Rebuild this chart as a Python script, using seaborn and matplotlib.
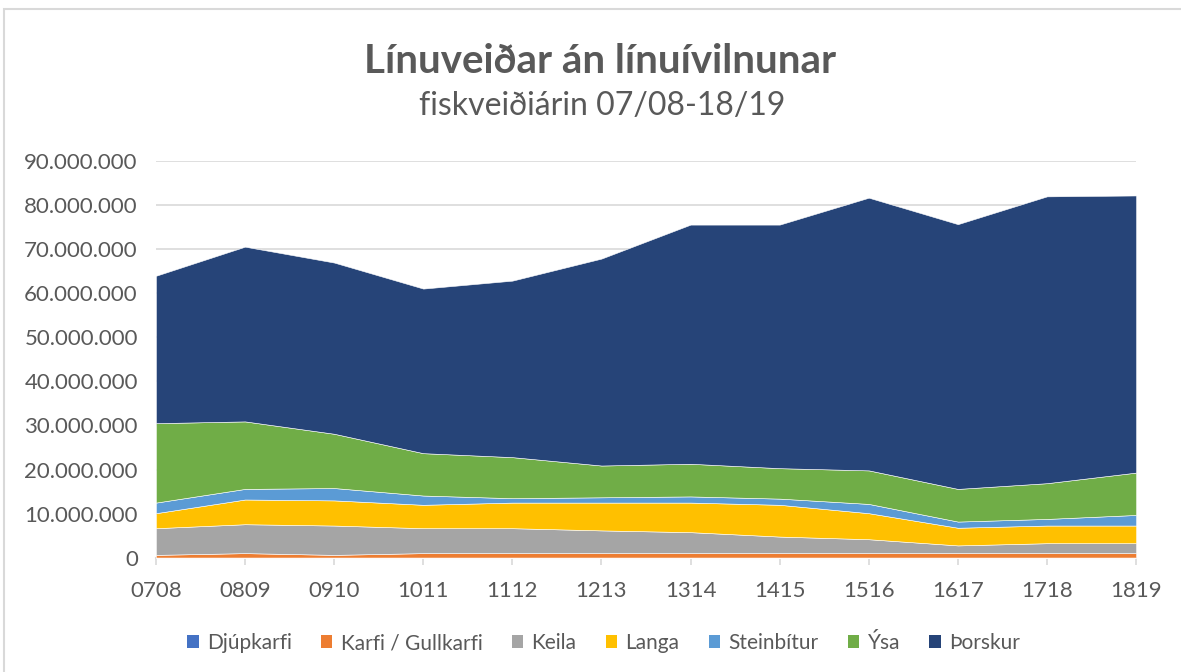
import numpy as np
import pandas as pd
import matplotlib
matplotlib.use("Agg")
import matplotlib.pyplot as plt
import matplotlib.ticker as mticker
from matplotlib.patches import Patch, Rectangle
import seaborn as sns

# Gögn lesin af myndinni (kg)
years = ["0708", "0809", "0910", "1011", "1112", "1213",
         "1314", "1415", "1516", "1617", "1718", "1819"]
djupkarfi = [50_000] * 12
karfi = [600_000, 1_000_000, 600_000, 1_000_000, 1_000_000, 1_000_000,
         1_000_000, 1_000_000, 1_000_000, 1_000_000, 1_000_000, 1_000_000]
keila = [6_050_000, 6_550_000, 6_650_000, 5_650_000, 5_650_000, 5_150_000,
         4_750_000, 3_750_000, 3_150_000, 1_750_000, 2_250_000, 2_250_000]
langa = [3_400_000, 5_600_000, 5_700_000, 5_300_000, 5_800_000, 6_300_000,
         6_700_000, 7_200_000, 5_900_000, 4_000_000, 4_000_000, 4_000_000]
steinbitur = [2_400_000, 2_400_000, 2_800_000, 2_100_000, 1_000_000, 1_200_000,
              1_400_000, 1_400_000, 2_100_000, 1_400_000, 1_500_000, 2_400_000]
ysa = [18_000_000, 15_300_000, 12_300_000, 9_600_000, 9_300_000, 7_200_000,
       7_400_000, 6_900_000, 7_600_000, 7_400_000, 8_100_000, 9_600_000]
thorskur = [33_400_000, 39_600_000, 38_800_000, 37_300_000, 40_000_000, 46_900_000,
            54_200_000, 55_200_000, 61_800_000, 60_000_000, 65_000_000, 62_800_000]

labels = ["Djúpkarfi", "Karfi / Gullkarfi", "Keila", "Langa",
          "Steinbítur", "Ýsa", "Þorskur"]
colors = ["#4472C4", "#ED7D31", "#A5A5A5", "#FFC000",
          "#5B9BD5", "#70AD47", "#264478"]

df = pd.DataFrame({
    "ar": years,
    "Djúpkarfi": djupkarfi,
    "Karfi / Gullkarfi": karfi,
    "Keila": keila,
    "Langa": langa,
    "Steinbítur": steinbitur,
    "Ýsa": ysa,
    "Þorskur": thorskur,
})

sns.set_theme(style="white")
plt.rcParams["font.family"] = ["Lato", "DejaVu Sans"]
txt = "#595959"
grid = "#D9D9D9"

fig = plt.figure(figsize=(11.81, 6.72), dpi=100)
ax = fig.add_axes([0.132, 0.170, 0.830, 0.591])

x = np.arange(len(df))
ax.stackplot(x, [df[c] for c in labels], colors=colors, labels=labels,
             linewidth=0.4, edgecolor="white", zorder=2)

ax.set_xlim(0, len(df) - 1)
ax.set_ylim(0, 90_000_000)
ax.yaxis.set_major_locator(mticker.MultipleLocator(10_000_000))
ax.yaxis.set_major_formatter(
    mticker.FuncFormatter(lambda v, p: f"{int(v):,}".replace(",", ".")))
ax.set_xticks(x)
ax.set_xticklabels(df["ar"])
ax.grid(axis="y", color=grid, linewidth=1.2, zorder=0)
ax.set_axisbelow(True)

for s in ["top", "right", "left"]:
    ax.spines[s].set_visible(False)
ax.spines["bottom"].set_color(grid)
ax.spines["bottom"].set_linewidth(1.5)
ax.spines["bottom"].set_zorder(1.5)

ax.tick_params(axis="x", colors=grid, length=5, width=1.2, direction="out",
               labelcolor=txt, labelsize=16, pad=12, bottom=True)
ax.tick_params(axis="y", length=0, labelcolor=txt, labelsize=16, pad=13)

fig.text(0.508, 0.908, "Línuveiðar án línuívilnunar", ha="center", va="center",
         fontsize=29, fontweight="bold", color=txt)
fig.text(0.510, 0.843, "fiskveiðiárin 07/08-18/19", ha="center", va="center",
         fontsize=23, color=txt)

handles = [Patch(facecolor=c, edgecolor="none", label=l) for c, l in zip(colors, labels)]
leg = fig.legend(handles=handles, loc="center", bbox_to_anchor=(0.511, 0.043),
                 ncol=7, frameon=False, fontsize=15, handlelength=0.55,
                 handleheight=0.55, handletextpad=0.4, columnspacing=1.4)
for t in leg.get_texts():
    t.set_color(txt)

fig.patches.append(Rectangle((0.0034, -0.01), 1.0, 0.9966, transform=fig.transFigure,
                             fill=False, edgecolor=grid, linewidth=1.5))

fig.savefig("out.png", dpi=100)
